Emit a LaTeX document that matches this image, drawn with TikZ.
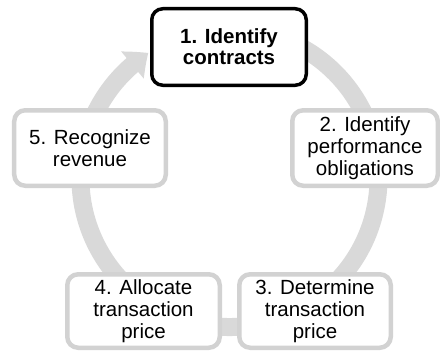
\documentclass[tikz,border=0pt]{standalone}
\usepackage{fontspec}
\setmainfont{Liberation Sans}
\usetikzlibrary{arrows.meta,bending}
\definecolor{ringgray}{HTML}{D9D9D9}
\definecolor{boxgray}{HTML}{D2D2D2}
\begin{document}
\begin{tikzpicture}[x=1bp,y=1bp,
  stepbox/.style={draw=boxgray, line width=4.5bp, fill=white, rounded corners=11bp,
    minimum width=151.5bp, minimum height=75.5bp, align=center, inner sep=0pt,
    font=\fontsize{20.5bp}{22bp}\selectfont},
  keybox/.style={stepbox, draw=black, line width=3.5bp,
    font=\fontsize{20.5bp}{21bp}\selectfont\bfseries},
  cycle/.style={draw=ringgray, line width=18bp, -{Triangle[width=34bp,length=20bp,bend]}}]
\useasboundingbox (0,0) rectangle (440,351);
% the cycle ring behind the five steps
\coordinate (c) at (229.5,173);
\draw[cycle] (c) ++(80:149) arc[start angle=80, end angle=-237, radius=149];
% the five steps
\node[keybox, minimum width=154.5bp, minimum height=76.5bp] (s1) at (229,304) {1. Identify\\contracts};
\node[stepbox, minimum width=145.5bp] (s2) at (365,203) {2. Identify\\performance\\obligations};
\node[stepbox, minimum height=73.5bp] (s3) at (315,40) {3. Determine\\transaction\\price};
\node[stepbox, minimum width=152.5bp, minimum height=73.5bp] (s4) at (143.5,40) {4. Allocate\\transaction\\price};
\node[stepbox] (s5) at (90,203) {5. Recognize\\revenue};
\end{tikzpicture}
\end{document}
